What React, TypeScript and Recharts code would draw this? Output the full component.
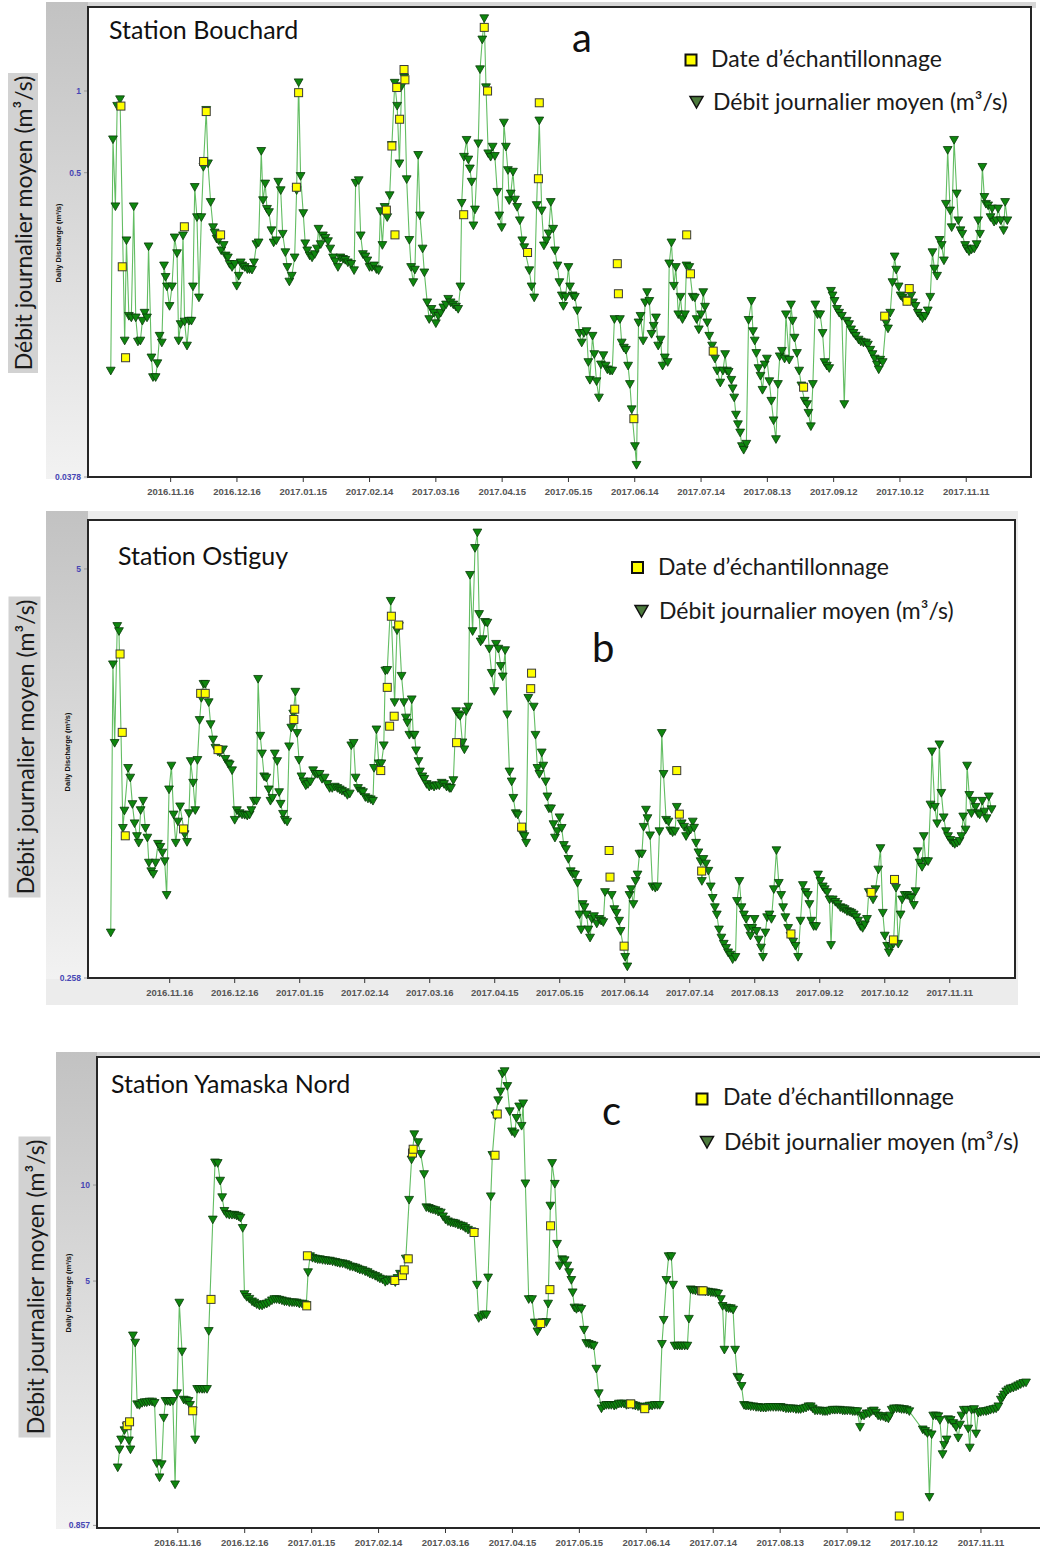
import React from 'react';
import { ScatterChart, Scatter, XAxis, YAxis } from 'recharts';

type Pt = [number, number];

// x = days since 2016-11-16, y = mean daily discharge (m3/s)
const tickDays = [0, 30, 60, 90, 120, 150, 180, 210, 240, 270, 300, 330, 360];
const tickDates = ['2016.11.16', '2016.12.16', '2017.01.15', '2017.02.14', '2017.03.16', '2017.04.15', '2017.05.15',
  '2017.06.14', '2017.07.14', '2017.08.13', '2017.09.12', '2017.10.12', '2017.11.11'];

const bouchardFlow: Pt[] = [
  [-27.1, 0.093], [-26.1, 0.662], [-25, 0.375], [-24.2, 0.88], [-22.9, 0.93], [-20.8, 0.12], [-20, 0.281], [-18.9, 0.148],
  [-17.8, 0.146], [-16.7, 0.375], [-15.8, 0.146], [-14.8, 0.119], [-13.7, 0.12], [-12.8, 0.142], [-11.8, 0.152], [-10.7, 0.146],
  [-10, 0.267], [-8.7, 0.104], [-8, 0.088], [-6.8, 0.088], [-6, 0.099], [-5, 0.125], [-4, 0.118], [-3, 0.227], [-2.3, 0.206],
  [-1.7, 0.19], [-0.5, 0.161], [0.6, 0.19], [1.8, 0.288], [2.9, 0.252], [3.6, 0.12], [4.5, 0.138], [5.6, 0.293], [6.3, 0.141],
  [7.4, 0.115], [8.3, 0.142], [9.4, 0.142], [10.1, 0.19], [10.9, 0.442], [11.9, 0.342], [12.8, 0.173], [13.9, 0.342],
  [14.8, 0.524], [16.1, 0.85], [16.9, 0.54], [18.1, 0.389], [19.2, 0.314], [19.9, 0.3], [20.8, 0.285], [21.7, 0.281],
  [22.9, 0.258], [24, 0.27], [24.9, 0.247], [25.9, 0.243], [26.7, 0.23], [27.8, 0.224], [29, 0.23], [29.9, 0.191],
  [30.8, 0.208], [31.7, 0.233], [32.4, 0.227], [33.5, 0.224], [34.7, 0.22], [35.7, 0.22], [36.8, 0.219], [37.7, 0.233],
  [38.8, 0.272], [39.8, 0.276], [41, 0.6], [41.8, 0.395], [42.8, 0.455], [43.6, 0.367], [44.5, 0.357], [45.6, 0.306],
  [46.6, 0.276], [47.8, 0.281], [48.7, 0.462], [49.8, 0.43], [50.7, 0.297], [51.9, 0.254], [52.8, 0.224], [53.7, 0.198],
  [54.8, 0.208], [56.1, 0.243], [57, 0.43], [57.9, 1.074], [58.8, 0.485], [60, 0.354], [60.9, 0.274], [61.8, 0.258],
  [62.9, 0.247], [64, 0.243], [65.2, 0.25], [66.2, 0.262], [66.9, 0.31], [67.9, 0.272], [68.9, 0.293], [70, 0.287],
  [71.2, 0.279], [72.2, 0.262], [73.5, 0.243], [74.5, 0.235], [75.7, 0.224], [76.8, 0.243], [78, 0.24], [79, 0.238],
  [80.2, 0.233], [81.7, 0.23], [83, 0.218], [83.7, 0.458], [85.1, 0.468], [86, 0.293], [87, 0.25], [88.1, 0.245], [89, 0.237],
  [90, 0.224], [91.1, 0.224], [92, 0.227], [93.1, 0.22], [94.1, 0.218], [94.9, 0.36], [95.8, 0.27], [96.8, 0.373], [98, 0.342],
  [99.1, 0.412], [100.1, 0.631], [101.4, 1.07], [102.5, 0.88], [103.5, 0.54], [104.5, 1.04], [105.7, 1.12], [106.8, 0.472],
  [108, 0.282], [108.8, 0.224], [109.8, 0.197], [110.5, 0.219], [112, 0.58], [112.8, 0.347], [114, 0.262], [114.8, 0.214],
  [116.1, 0.166], [117, 0.144], [118, 0.157], [119.1, 0.152], [120, 0.139], [121.1, 0.148], [122.2, 0.152], [123.4, 0.159],
  [124.6, 0.163], [125.6, 0.171], [126.7, 0.166], [127.9, 0.163], [129.1, 0.16], [130.1, 0.157], [131.1, 0.19], [131.7, 0.386],
  [132.7, 0.571], [133.9, 0.659], [134.7, 0.558], [135.4, 0.517], [136.2, 0.462], [137, 0.319], [137.7, 0.365], [139.2, 0.64],
  [140, 1.2], [141, 1.545], [141.9, 1.85], [142.7, 1.03], [143.7, 0.588], [144.8, 0.571], [145.7, 0.622], [146.7, 0.575],
  [147.8, 0.424], [148.7, 0.347], [149.8, 0.314], [150.8, 0.763], [151.7, 0.622], [152.6, 0.51], [153.2, 0.395], [153.9, 0.418],
  [154.9, 0.503], [155.8, 0.397], [156.8, 0.373], [158, 0.333], [159.1, 0.281], [160, 0.265], [162.3, 0.218], [163.3, 0.19],
  [164.5, 0.173], [165.6, 0.379], [166.8, 0.777], [167.9, 0.362], [168.9, 0.269], [170.1, 0.281], [171, 0.298], [172, 0.389],
  [173.1, 0.31], [173.9, 0.258], [175, 0.227], [175.9, 0.197], [177, 0.176], [177.7, 0.161], [178.7, 0.174], [180, 0.224],
  [180.7, 0.19], [181.9, 0.176], [182.9, 0.174], [184, 0.155], [185, 0.128], [186, 0.118], [187, 0.128], [188.2, 0.13],
  [189, 0.1], [189.7, 0.086], [190.9, 0.125], [191.7, 0.107], [192.7, 0.085], [193.8, 0.074], [194.7, 0.098], [195.8, 0.106],
  [196.8, 0.097], [197.6, 0.094], [198.8, 0.093], [199.8, 0.093], [200.8, 0.144], [203.3, 0.144], [204.1, 0.118],
  [205.1, 0.113], [206, 0.111], [207, 0.097], [207.8, 0.083], [208.6, 0.067], [210.1, 0.049], [210.8, 0.0418], [211.7, 0.14],
  [212.6, 0.148], [213.8, 0.12], [214.7, 0.166], [215.6, 0.181], [216.6, 0.168], [217.6, 0.127], [218.6, 0.136], [219.6, 0.146],
  [220.6, 0.115], [221.7, 0.121], [222.6, 0.097], [223.6, 0.104], [224.9, 0.1], [225.6, 0.231], [226.6, 0.276], [227.7, 0.191],
  [228.6, 0.224], [229.7, 0.15], [230.7, 0.174], [231.6, 0.144], [232.7, 0.15], [233.4, 0.227], [234.7, 0.224], [236.2, 0.174],
  [237.2, 0.173], [238, 0.144], [239, 0.132], [240, 0.15], [241, 0.181], [241.8, 0.16], [242.8, 0.14], [243.7, 0.125],
  [245, 0.115], [246.3, 0.103], [247.3, 0.093], [248.7, 0.084], [249.9, 0.093], [250.9, 0.107], [251.7, 0.093], [252.5, 0.092],
  [253.7, 0.086], [254.3, 0.08], [255, 0.074], [255.8, 0.064], [256.7, 0.059], [257.7, 0.055], [258.5, 0.049], [259.3, 0.0475],
  [260.5, 0.05], [261.5, 0.143], [262.8, 0.168], [263.5, 0.13], [264.3, 0.12], [265, 0.108], [266, 0.095], [266.9, 0.089],
  [267.8, 0.079], [268.8, 0.098], [269.8, 0.103], [270.9, 0.085], [271.8, 0.072], [272.8, 0.061], [273.9, 0.052], [274.8, 0.083],
  [275.6, 0.105], [276.6, 0.11], [277.8, 0.103], [278.4, 0.15], [279.9, 0.102], [280.7, 0.163], [281.4, 0.142], [282.3, 0.123],
  [283.4, 0.108], [284.4, 0.093], [285.4, 0.082], [286.9, 0.072], [288, 0.07], [288.6, 0.065], [289.7, 0.058], [290.6, 0.083],
  [291.7, 0.163], [292.7, 0.15], [293.9, 0.15], [295, 0.128], [295.9, 0.1], [296.9, 0.097], [298, 0.095], [298.8, 0.183],
  [299.5, 0.176], [300.4, 0.168], [301.5, 0.157], [302.5, 0.152], [303.7, 0.148], [304.8, 0.07], [305.9, 0.142], [307, 0.138],
  [307.9, 0.132], [309, 0.128], [310, 0.125], [311.3, 0.121], [312.3, 0.119], [313.5, 0.118], [314.6, 0.118], [315.5, 0.116],
  [316.6, 0.111], [317.6, 0.107], [318.6, 0.103], [319.6, 0.098], [320.4, 0.094], [321.1, 0.102], [322.2, 0.1], [323.7, 0.14],
  [324.6, 0.133], [325.6, 0.152], [326.6, 0.197], [327.6, 0.245], [328.3, 0.219], [329.4, 0.19], [330.3, 0.176], [331.2, 0.173],
  [332.1, 0.17], [333.2, 0.168], [335.1, 0.176], [335.9, 0.166], [337, 0.161], [338.1, 0.152], [339.2, 0.148], [340.2, 0.145],
  [341.4, 0.148], [342.6, 0.155], [343.7, 0.174], [344.7, 0.254], [345.6, 0.221], [346.8, 0.208], [347.9, 0.282], [348.9, 0.27],
  [349.9, 0.237], [350.8, 0.383], [351.6, 0.605], [352.7, 0.362], [353.4, 0.314], [354.5, 0.659], [355.7, 0.418], [356.4, 0.333],
  [357.4, 0.306], [358.2, 0.297], [359.5, 0.27], [360.2, 0.262], [361.3, 0.256], [362.4, 0.26], [363.6, 0.262], [364.7, 0.272],
  [365.4, 0.333], [366.2, 0.297], [367.3, 0.524], [368.2, 0.406], [368.9, 0.383], [369.9, 0.378], [371, 0.342], [371.7, 0.368],
  [372.6, 0.329], [373.6, 0.333], [374.4, 0.368], [375.6, 0.333], [376.9, 0.306], [377.6, 0.389], [378.6, 0.333],
];
const bouchardSamples: Pt[] = [
  [-22.5, 0.88], [-21.9, 0.225], [-20.4, 0.104], [6.2, 0.316], [14.9, 0.55], [16.1, 0.84], [22.6, 0.295], [56.9, 0.442],
  [57.9, 0.986], [97.6, 0.364], [100.1, 0.627], [101.5, 0.295], [102.3, 1.03], [103.6, 0.787], [105.6, 1.2], [106, 1.1],
  [132.6, 0.35], [141.9, 1.716], [143.4, 1.0], [161.5, 0.254], [166.4, 0.475], [166.8, 0.905], [202.1, 0.231], [202.6, 0.179],
  [209.6, 0.062], [233.5, 0.295], [235.2, 0.212], [245.5, 0.11], [286.4, 0.081], [323.1, 0.148], [333.2, 0.168], [334.2, 0.187],
];

const ostiguyFlow: Pt[] = [
  [-27.2, 0.358], [-26.2, 2.5], [-25.4, 1.415], [-24.2, 3.3], [-23.4, 3.18], [-21.6, 0.764], [-20.9, 0.866], [-19.2, 1.18],
  [-18.2, 1.1], [-17.2, 0.908], [-16.2, 0.79], [-15.1, 0.72], [-14.3, 0.686], [-13.4, 0.869], [-12.3, 0.93], [-11.2, 0.764],
  [-10.3, 0.712], [-9.6, 0.594], [-8.5, 0.558], [-7.6, 0.547], [-6.5, 0.594], [-5.4, 0.681], [-4.3, 0.666], [-3.4, 0.639],
  [-2.3, 0.6], [-1.4, 0.47], [-0.3, 1.01], [0.8, 1.2], [1.8, 0.842], [2.8, 0.686], [3.8, 0.8], [4.8, 0.893], [6.9, 0.73],
  [8, 0.69], [8.9, 0.85], [9.7, 1.24], [10.8, 1.06], [11.8, 0.869], [12.8, 1.25], [13.8, 1.67], [14.6, 1.96], [15.6, 2.17],
  [16.4, 2.17], [18, 1.9], [18.9, 1.62], [20, 1.45], [21.1, 1.365], [22.2, 1.33], [23.1, 1.32], [24.6, 1.35], [25.7, 1.26],
  [26.9, 1.22], [27.7, 1.21], [28.8, 1.16], [30, 0.81], [31, 0.869], [32.3, 0.85], [33.4, 0.842], [34.6, 0.84], [35.8, 0.835],
  [36.9, 0.842], [37.7, 0.869], [38.9, 0.93], [40, 0.93], [40.8, 2.25], [41.8, 1.49], [42.6, 1.31], [43.6, 1.11], [44.6, 1.1],
  [45.7, 1.01], [46.5, 0.93], [47.4, 0.95], [48.5, 1.31], [49.6, 1.24], [50.5, 0.99], [51.2, 0.91], [52.3, 0.846], [53.1, 0.81],
  [54.2, 0.8], [55.1, 1.38], [56.1, 1.58], [57, 1.75], [58, 2.05], [58.8, 1.52], [59.7, 1.25], [60.8, 1.11], [61.8, 1.07],
  [62.8, 1.04], [63.8, 1.05], [65, 1.07], [66.2, 1.16], [67.2, 1.13], [68.1, 1.13], [69.2, 1.13], [70.3, 1.09], [71.5, 1.1],
  [72.7, 1.05], [73.8, 1.02], [75, 1.02], [76.2, 1.03], [77.4, 1.02], [78.5, 1.01], [79.5, 1.0], [80.8, 0.99], [82, 0.97],
  [83.1, 0.98], [83.8, 1.39], [84.9, 1.415], [85.8, 1.1], [86.9, 1.02], [88.2, 1.0], [89.2, 0.99], [90.3, 0.955], [91.5, 0.945],
  [92.8, 0.94], [93.8, 0.93], [94.3, 1.18], [95.4, 1.56], [96.5, 1.22], [97.7, 1.22], [98.8, 1.39], [99.5, 2.39], [100.4, 2.4],
  [102, 3.96], [103.8, 1.9], [104.9, 3.2], [105.8, 3.3], [107, 2.3], [108.1, 1.9], [109, 1.7], [109.7, 1.64], [110.6, 1.5],
  [111.7, 1.94], [112.4, 1.5], [113, 1.5], [113.7, 1.34], [114.8, 1.24], [115.5, 1.15], [116.6, 1.11], [117.5, 1.09],
  [118.6, 1.05], [119.8, 1.03], [120.9, 1.04], [122, 1.03], [123.2, 1.04], [124.4, 1.04], [125.5, 1.06], [126.6, 1.05],
  [127.8, 1.03], [129.1, 1.02], [129.8, 1.02], [130.9, 1.08], [132.2, 1.78], [133.2, 1.74], [134, 1.72], [135.1, 1.42],
  [136, 1.35], [136.8, 1.78], [137.8, 1.84], [138.6, 4.78], [139.8, 3.18], [140.9, 5.81], [142, 6.5], [142.8, 3.6],
  [143.5, 2.95], [144.4, 3.0], [145.5, 3.4], [146.6, 3.38], [147.5, 2.8], [148.6, 2.35], [149.8, 2.06], [150.6, 2.9],
  [151.7, 2.8], [152.8, 2.47], [153.7, 2.29], [154.8, 2.77], [155.8, 1.74], [156.8, 1.15], [157.8, 1.07], [158.6, 0.95],
  [159.7, 0.85], [160.6, 0.842], [162.9, 0.73], [163.7, 0.72], [164.5, 0.686], [165.5, 1.96], [168, 1.84], [168.8, 1.5],
  [169.7, 1.18], [170.6, 1.13], [171.7, 1.32], [172.4, 1.2], [173.5, 1.07], [174.3, 0.96], [175, 0.88], [176, 0.88],
  [177.1, 0.785], [177.8, 0.712], [178.9, 0.746], [179.9, 0.825], [180.9, 0.764], [181.9, 0.675], [182.9, 0.655], [184, 0.61],
  [185.1, 0.558], [186, 0.547], [187.1, 0.545], [188.2, 0.513], [189.1, 0.408], [189.9, 0.366], [190.6, 0.44], [191.4, 0.43],
  [192.4, 0.408], [193.2, 0.366], [194, 0.345], [194.8, 0.395], [195.8, 0.403], [197.1, 0.382], [198.2, 0.395], [199.1, 0.39],
  [200.1, 0.386], [200.9, 0.48], [204, 0.47], [205.2, 0.424], [206.2, 0.413], [207.4, 0.39], [208.1, 0.362], [210.2, 0.3],
  [211.2, 0.28], [212.2, 0.47], [212.9, 0.49], [214, 0.44], [215, 0.52], [215.9, 0.545], [216.8, 0.634], [217.9, 0.634],
  [218.7, 0.77], [219.8, 0.872], [220.5, 0.82], [221.7, 0.724], [222.8, 0.5], [224.1, 0.495], [225.1, 0.5], [226, 0.746],
  [227.1, 1.52], [227.9, 1.13], [229.1, 0.81], [230.2, 0.8], [231, 0.75], [232.1, 0.74], [233.2, 0.746], [234, 0.89],
  [236.3, 0.79], [237.4, 0.77], [238.3, 0.72], [239.4, 0.746], [240.4, 0.755], [241.4, 0.8], [242, 0.765], [242.9, 0.686],
  [244, 0.64], [245, 0.6], [245.6, 0.52], [246.3, 0.61], [247.5, 0.59], [248.6, 0.56], [249.7, 0.5], [250.6, 0.46],
  [251.6, 0.43], [252.5, 0.408], [253.5, 0.366], [254.6, 0.345], [255.7, 0.33], [256.8, 0.32], [257.7, 0.31], [258.8, 0.305],
  [259.8, 0.295], [261.1, 0.3], [261.8, 0.45], [262.9, 0.52], [263.9, 0.43], [265, 0.408], [266, 0.395], [267, 0.37],
  [268, 0.35], [268.8, 0.37], [269.9, 0.395], [270.8, 0.362], [271.8, 0.34], [272.9, 0.321], [273.8, 0.3], [274.9, 0.358],
  [275.7, 0.4], [276.8, 0.408], [277.7, 0.395], [278.8, 0.49], [280, 0.65], [281.1, 0.513], [282.2, 0.47], [283.1, 0.43],
  [284.1, 0.4], [285.4, 0.37], [286.5, 0.35], [287.7, 0.335], [288.8, 0.325], [290, 0.3], [291.1, 0.39], [292.2, 0.505],
  [293.4, 0.48], [294.5, 0.47], [295.2, 0.44], [296.1, 0.39], [297.2, 0.375], [298.3, 0.375], [299.2, 0.545], [300.3, 0.52],
  [301.4, 0.5], [302.3, 0.49], [303.4, 0.48], [304.5, 0.455], [305.2, 0.327], [306, 0.455], [307.2, 0.447], [308.3, 0.44],
  [309.5, 0.43], [310.6, 0.427], [311.5, 0.424], [312.6, 0.418], [313.7, 0.416], [314.6, 0.413], [315.7, 0.408], [316.8, 0.4],
  [317.7, 0.39], [318.8, 0.375], [319.8, 0.37], [320.8, 0.38], [321.8, 0.395], [322.6, 0.48], [323.7, 0.47], [324.6, 0.455],
  [325.7, 0.49], [327, 0.565], [328, 0.66], [329.1, 0.413], [330, 0.35], [331.1, 0.325], [331.9, 0.31], [333, 0.325],
  [334, 0.33], [335.2, 0.495], [336.2, 0.33], [337.3, 0.408], [338, 0.455], [339.2, 0.47], [340.3, 0.47], [341.4, 0.465],
  [342.3, 0.46], [343.4, 0.437], [344.2, 0.483], [345.2, 0.645], [346.1, 0.594], [347.2, 0.576], [348, 0.72], [348.8, 0.6],
  [350, 0.6], [351.1, 0.905], [351.8, 1.33], [353.1, 0.89], [354.2, 0.79], [355.2, 1.4], [356.1, 0.985], [357.2, 0.825],
  [358.3, 0.746], [359.2, 0.72], [360.3, 0.7], [361.4, 0.686], [362.3, 0.68], [363.4, 0.686], [364.5, 0.695], [365.4, 0.72],
  [366.2, 0.83], [367.3, 0.755], [368, 1.2], [369, 0.97], [370, 0.85], [370.8, 0.93], [371.9, 0.89], [373, 0.85],
  [373.8, 0.842], [375, 0.93], [376, 0.86], [377, 0.82], [378, 0.96], [379.3, 0.875],
];
const ostiguySamples: Pt[] = [
  [-22.9, 2.7], [-21.9, 1.53], [-20.5, 0.723], [6.4, 0.76], [14.3, 2.03], [16.4, 2.03], [22.3, 1.35], [57.3, 1.68],
  [57.7, 1.81], [97.4, 1.16], [100.4, 2.12], [101.5, 1.6], [102.3, 3.55], [103.6, 1.72], [105.7, 3.33], [132.4, 1.42],
  [162.4, 0.77], [166.6, 2.1], [167, 2.35], [202.8, 0.65], [203.2, 0.536], [209.7, 0.325], [234, 1.16], [235.2, 0.846],
  [245.5, 0.56], [286.7, 0.355], [323.7, 0.48], [334, 0.34], [334.5, 0.527],
];

const yamaskaFlow: Pt[] = [
  [-26.9, 1.3], [-26.1, 1.48], [-25.4, 1.59], [-23.9, 1.7], [-22.9, 1.75], [-21.9, 1.58], [-21.2, 1.48], [-20.1, 3.37],
  [-19.1, 3.2], [-18.2, 2.05], [-17.2, 2.04], [-16, 2.07], [-14.9, 2.08], [-13.9, 2.08], [-12.7, 2.09], [-11.5, 2.09],
  [-10.4, 2.07], [-9.4, 1.34], [-8.2, 1.21], [-7.2, 1.33], [-6.3, 1.86], [-5.5, 2.1], [-4.5, 2.1], [-3.4, 2.09], [-2.2, 2.1],
  [-1.2, 1.15], [-0.3, 2.22], [0.7, 4.27], [1.9, 3.0], [2.7, 2.12], [3.7, 2.11], [4.8, 2.1], [5.5, 2.04], [6.7, 1.96],
  [7.8, 1.59], [8.7, 2.29], [9.7, 2.29], [10.9, 2.29], [11.9, 2.29], [13.1, 2.29], [13.9, 3.48], [15.7, 7.78], [16.7, 11.75],
  [17.9, 11.7], [19, 10.3], [19.9, 9.14], [20.9, 8.28], [21.9, 8.1], [23.1, 8.05], [24.3, 8.05], [25.4, 8.05], [26.4, 8.0],
  [27.3, 7.96], [28.1, 7.88], [29.1, 7.32], [29.9, 4.54], [30.9, 4.45], [32.1, 4.39], [33.3, 4.31], [34.3, 4.27], [35.4, 4.22],
  [36.6, 4.18], [37.8, 4.18], [38.8, 4.22], [39.9, 4.24], [41, 4.28], [42.2, 4.34], [43.3, 4.38], [44.3, 4.38], [45.5, 4.36],
  [46.7, 4.34], [47.8, 4.31], [48.8, 4.31], [50, 4.28], [51.2, 4.28], [52.2, 4.28], [53.3, 4.27], [54.5, 4.24], [55.7, 4.24],
  [56.7, 4.22], [57.6, 4.2], [58.4, 5.32], [59.3, 5.97], [60.4, 5.9], [61.6, 5.87], [62.7, 5.84], [63.7, 5.84], [64.9, 5.81],
  [66.1, 5.8], [67.2, 5.78], [68.2, 5.78], [69.4, 5.75], [70.6, 5.73], [71.6, 5.7], [72.7, 5.68], [73.9, 5.67], [75.1, 5.64],
  [76.1, 5.6], [77.2, 5.55], [78.4, 5.53], [79.6, 5.5], [80.6, 5.46], [81.6, 5.42], [82.8, 5.4], [84, 5.35], [85.1, 5.32],
  [86.1, 5.26], [87.3, 5.22], [88.5, 5.18], [89.6, 5.13], [90.6, 5.08], [91.8, 5.05], [93, 4.96], [94, 5.0], [95.2, 5.05],
  [96.3, 5.02], [97.5, 4.95], [98.5, 5.1], [99.6, 5.26], [100.7, 5.2], [102.2, 5.87], [103.7, 8.97], [104.8, 12.0],
  [106, 14.4], [107.7, 13.6], [108.9, 12.5], [110.4, 10.8], [111.4, 8.5], [112.5, 8.46], [113.4, 8.4], [114.4, 8.36],
  [115.5, 8.32], [116.7, 8.23], [117.9, 8.18], [118.9, 7.96], [120, 7.78], [121.1, 7.68], [122.3, 7.62], [123.4, 7.6],
  [124.4, 7.57], [125.6, 7.5], [126.8, 7.45], [127.9, 7.41], [128.9, 7.32], [130.1, 7.23], [131.6, 7.15], [132.8, 7.1],
  [134.1, 4.86], [134.9, 3.82], [136.1, 3.87], [137.3, 3.92], [138.3, 3.92], [139.1, 5.12], [140.3, 9.2], [141, 12.4],
  [142.4, 16.5], [143.6, 18.4], [144.7, 19.6], [145.5, 22.3], [146.5, 22.7], [147.7, 20.4], [148.8, 17.0], [149.8, 14.7],
  [151, 14.5], [151.8, 16.2], [153, 17.6], [154.1, 15.3], [154.8, 18.0], [155.8, 10.1], [157.3, 4.38], [158.8, 4.38],
  [160, 3.7], [161.2, 3.47], [162.4, 3.6], [163.7, 3.71], [165.2, 3.71], [166, 4.24], [167, 8.6], [167.8, 11.7], [169, 10.07],
  [170, 6.53], [171.2, 5.58], [172.3, 5.84], [173.4, 5.8], [174.6, 5.58], [175.4, 5.32], [176.4, 5.03], [177, 4.6],
  [177.8, 4.12], [178.7, 4.08], [179.7, 4.12], [180.9, 4.08], [182.1, 3.51], [183.1, 3.19], [184.2, 3.17], [185.4, 3.15],
  [186.4, 3.13], [187.6, 2.65], [188.7, 2.22], [189.9, 1.99], [191.1, 2.03], [192.1, 2.04], [193.2, 2.04], [194.3, 2.04],
  [195.6, 2.03], [196.6, 2.04], [197.7, 2.06], [198.8, 2.06], [200, 2.06], [201.1, 2.04], [202, 2.05], [203, 2.06], [204, 2.04],
  [205.1, 2.03], [206.3, 2.02], [207.5, 2.01], [208.4, 2.0], [209.3, 1.99], [210.5, 2.02], [211.5, 2.03], [212.6, 2.03],
  [213.8, 2.04], [215, 2.04], [216, 2.04], [217, 3.17], [217.8, 3.77], [219, 5.03], [220, 5.97], [221.2, 5.97], [222, 4.86],
  [222.7, 3.13], [223.9, 3.13], [225, 3.13], [226, 3.13], [227.2, 3.13], [228.4, 3.13], [229.1, 3.8], [229.9, 4.7],
  [230.9, 4.68], [232, 4.66], [233.2, 4.66], [234.3, 4.66], [235.4, 4.65], [236.5, 4.63], [237.7, 4.62], [238.9, 4.6],
  [239.9, 4.6], [241, 4.58], [242.2, 4.56], [243.4, 4.38], [244.2, 4.17], [245, 3.04], [245.9, 4.12], [246.9, 4.1],
  [247.9, 4.1], [248.9, 4.06], [249.8, 3.04], [250.8, 2.5], [251.7, 2.48], [252.7, 2.34], [253.8, 2.04], [254.7, 2.03],
  [255.7, 2.03], [256.8, 2.02], [258, 2.02], [259.2, 2.01], [260.2, 2.01], [261.3, 2.0], [262.5, 2.0], [263.6, 2.0],
  [264.7, 2.01], [265.7, 2.01], [266.9, 2.01], [268.1, 2.01], [269.2, 2.01], [270.2, 2.01], [271.4, 2.0], [272.6, 1.99],
  [273.7, 1.99], [274.7, 1.99], [275.9, 1.99], [277.1, 1.98], [278.2, 1.98], [279.2, 1.98], [280.4, 1.99], [281.6, 2.0],
  [282.7, 2.02], [283.7, 2.02], [284.6, 1.99], [285.6, 1.96], [286.7, 1.96], [287.9, 1.96], [289.1, 1.95], [290.1, 1.95],
  [291.1, 1.95], [292.3, 1.96], [293.5, 1.97], [294.5, 1.97], [295.6, 1.97], [296.8, 1.97], [298, 1.96], [299, 1.96],
  [300.1, 1.96], [301.3, 1.96], [302.5, 1.95], [303.5, 1.95], [304.6, 1.95], [305.8, 1.74], [306.5, 1.89], [307.6, 1.89],
  [308.8, 1.92], [310, 1.92], [311, 1.95], [312, 1.96], [312.9, 1.93], [313.9, 1.89], [315, 1.88], [316.2, 1.88], [317.3, 1.86],
  [318.5, 1.85], [319.2, 1.89], [320, 1.97], [321, 1.99], [322.2, 1.99], [323.4, 1.99], [324.4, 1.98], [325.5, 1.98],
  [326.7, 1.97], [327.9, 1.95], [333.9, 1.71], [335, 1.69], [336, 1.665], [336.9, 1.05], [337.9, 1.65], [338.6, 1.89],
  [339.8, 1.89], [340.9, 1.88], [341.6, 1.83], [342.8, 1.43], [343.5, 1.53], [344.6, 1.59], [345.3, 1.84], [346.4, 1.83],
  [347.6, 1.79], [348.8, 1.74], [349.8, 1.61], [350.6, 1.77], [351.3, 1.89], [352.3, 1.97], [353.5, 1.97], [354.3, 1.72],
  [355, 1.5], [355.8, 1.97], [356.9, 1.98], [357.8, 1.66], [358.8, 1.93], [359.9, 1.94], [361.1, 1.95], [362.3, 1.95],
  [363.3, 1.96], [364.3, 1.97], [365.6, 1.98], [366.8, 1.99], [367.8, 2.02], [368.9, 2.12], [369.8, 2.16], [370.4, 2.2],
  [371.3, 2.25], [372.3, 2.28], [373.3, 2.3], [374.5, 2.31], [375.7, 2.33], [376.7, 2.35], [377.8, 2.37], [379, 2.39],
  [380.2, 2.4],
];
const yamaskaSamples: Pt[] = [
  [-22.7, 1.76], [-21.6, 1.81], [6.7, 1.96], [14.9, 4.38], [57.8, 4.18], [58.1, 6.0], [97.3, 5.02], [100.7, 5.2],
  [101.5, 5.42], [103.3, 5.87], [105.2, 12.6], [105.5, 12.95], [132.8, 7.1], [142.2, 12.4], [143.2, 16.7], [162.7, 3.68],
  [166.8, 4.7], [167.1, 7.45], [203, 2.06], [209.3, 1.99], [234.7, 4.66], [235.4, 4.66], [323.4, 0.917],
];

const LINE_GREEN = '#63bd63';
const FONT = 'Lato, "Open Sans", sans-serif';

const toRows = (pts: Pt[]) => pts.map(([d, v]) => ({ d, v }));

function DownTriangle(props: any) {
  const { cx, cy } = props;
  if (cx == null || cy == null) return null;
  return (
    <path d={`M${cx - 4.4},${cy - 3.7}L${cx + 4.4},${cy - 3.7}L${cx},${cy + 4}Z`}
      fill="#0e860e" stroke="#0a3a0a" strokeWidth={0.8} />
  );
}

function SampleSquare(props: any) {
  const { cx, cy } = props;
  if (cx == null || cy == null) return null;
  return <rect x={cx - 4} y={cy - 4} width={8} height={8} fill="#ffff00" stroke="#3a3a3a" strokeWidth={1} />;
}

interface PanelProps {
  flow: Pt[];
  samples: Pt[];
  top: number;
  width: number;
  height: number;
  margin: { top: number; right: number; bottom: number; left: number };
  xDomain: [number, number];
  yDomain: [number, number];
  yTicks: number[];
}

function Panel({ flow, samples, top, width, height, margin, xDomain, yDomain, yTicks }: PanelProps) {
  return (
    <div style={{ position: 'absolute', left: 0, top, width, height }}>
      <ScatterChart width={width} height={height} margin={margin}>
        <XAxis
          type="number"
          dataKey="d"
          domain={xDomain}
          allowDataOverflow
          ticks={tickDays}
          interval={0}
          tickFormatter={(d: number) => tickDates[tickDays.indexOf(d)] ?? ''}
          axisLine={false}
          tickLine={{ stroke: '#333' }}
          tickSize={5}
          tickMargin={6}
          height={24}
          tick={{ fontSize: 9.5, fontWeight: 700, fill: '#555', fontFamily: '"Liberation Sans", Arial, sans-serif' }}
        />
        <YAxis
          type="number"
          dataKey="v"
          scale="log"
          domain={yDomain}
          allowDataOverflow
          ticks={yTicks}
          interval={0}
          tickFormatter={(v: number) => String(v)}
          axisLine={false}
          tickLine={{ stroke: '#999' }}
          tickSize={4}
          tickMargin={3}
          width={40}
          tick={{ fontSize: 8.5, fontWeight: 700, fill: '#4646b4', fontFamily: '"Liberation Sans", Arial, sans-serif' }}
        />
        <Scatter
          data={toRows(flow)}
          line={{ stroke: LINE_GREEN, strokeWidth: 1.1 }}
          lineType="joint"
          shape={DownTriangle}
          isAnimationActive={false}
        />
        <Scatter data={toRows(samples)} shape={SampleSquare} isAnimationActive={false} />
      </ScatterChart>
    </div>
  );
}

const abs = (s: React.CSSProperties): React.CSSProperties => ({ position: 'absolute', ...s });
const stripGradient = 'linear-gradient(to bottom, #c2c2c2 0%, #d8d8d8 45%, #f2f2f2 100%)';

function Frame({ left, top, width, height }: { left: number; top: number; width: number; height: number }) {
  return (
    <div style={abs({ left: left - 1, top: top - 1, width: width + 2, height: height + 2, border: '2px solid #262626',
      boxSizing: 'border-box', pointerEvents: 'none' })} />
  );
}

function YLabel({ cx, cy, len, thick }: { cx: number; cy: number; len: number; thick: number }) {
  return (
    <div style={abs({ left: cx - len / 2, top: cy - thick / 2, width: len, height: thick, background: '#d2d2d2',
      transform: 'rotate(-90deg)', display: 'flex', alignItems: 'center', justifyContent: 'center',
      fontFamily: FONT, fontSize: 23, color: '#1a1a1a', whiteSpace: 'nowrap' })}>
      Débit journalier moyen (m³/s)
    </div>
  );
}

function SmallLabel({ cx, cy }: { cx: number; cy: number }) {
  return (
    <div style={abs({ left: cx - 60, top: cy - 6, width: 120, height: 12, transform: 'rotate(-90deg)',
      textAlign: 'center', fontFamily: '"Liberation Sans", Arial, sans-serif', fontSize: 7.5, fontWeight: 700,
      lineHeight: '12px', color: '#111', whiteSpace: 'nowrap' })}>
      Daily Discharge (m³/s)
    </div>
  );
}

function Legend({ sqX, sqY, triX, triY, t1X, t1Y, t2X, t2Y }: Record<string, number>) {
  return (
    <g>
      <rect x={sqX - 5.5} y={sqY - 5.5} width={11} height={11} fill="#ffff00" stroke="#111" strokeWidth={2} />
      <text x={t1X} y={t1Y} fontSize={23} fontFamily={FONT} fill="#1a1a1a">Date d’échantillonnage</text>
      <path d={`M${triX - 6.5},${triY - 5.5}L${triX + 6.5},${triY - 5.5}L${triX},${triY + 6}Z`}
        fill="#4b7a3c" stroke="#111" strokeWidth={1.5} />
      <text x={t2X} y={t2Y} fontSize={23} fontFamily={FONT} fill="#1a1a1a">Débit journalier moyen (m³/s)</text>
    </g>
  );
}

export default function App() {
  return (
    <div style={abs({ left: 0, top: 0, width: 1040, height: 1552, background: '#fff', overflow: 'hidden' })}>
      {/* screenshot backdrops */}
      <div style={abs({ left: 46, top: 2, width: 990, height: 6, background: '#d6d6d6' })} />
      <div style={abs({ left: 46, top: 2, width: 42, height: 477, background: stripGradient })} />
      <div style={abs({ left: 46, top: 511, width: 972, height: 494, background: '#ececec' })} />
      <div style={abs({ left: 46, top: 511, width: 42, height: 468, background: stripGradient })} />
      <div style={abs({ left: 56, top: 1052, width: 984, height: 6, background: '#d6d6d6' })} />
      <div style={abs({ left: 56, top: 1052, width: 41, height: 477, background: stripGradient })} />
      <div style={abs({ left: 88, top: 7, width: 943, height: 470, background: '#fff' })} />
      <div style={abs({ left: 88, top: 520, width: 927, height: 458, background: '#fff' })} />
      <div style={abs({ left: 97, top: 1057, width: 950, height: 471, background: '#fff' })} />

      <Panel flow={bouchardFlow} samples={bouchardSamples} top={0} width={1040} height={510}
        margin={{ top: 7, right: 9, bottom: 9, left: 48 }} xDomain={[-37.4, 389.3]} yDomain={[0.0378, 2.04]}
        yTicks={[0.0378, 0.5, 1]} />
      <Panel flow={ostiguyFlow} samples={ostiguySamples} top={512} width={1040} height={493}
        margin={{ top: 8, right: 25, bottom: 3, left: 48 }} xDomain={[-37.7, 390.1]} yDomain={[0.258, 7.13]}
        yTicks={[0.258, 5]} />
      <Panel flow={yamaskaFlow} samples={yamaskaSamples} top={1050} width={1050} height={502}
        margin={{ top: 7, right: 5, bottom: 0, left: 57 }} xDomain={[-36.2, 388.7]} yDomain={[0.841, 25.2]}
        yTicks={[0.857, 5, 10]} />

      <Frame left={88} top={7} width={943} height={470} />
      <Frame left={88} top={520} width={927} height={458} />
      <Frame left={97} top={1057} width={960} height={471} />

      <YLabel cx={22.5} cy={223} len={300} thick={30} />
      <YLabel cx={24} cy={747} len={301} thick={32} />
      <YLabel cx={34.5} cy={1287} len={301} thick={32} />
      <SmallLabel cx={58.5} cy={243} />
      <SmallLabel cx={68} cy={752} />
      <SmallLabel cx={68.5} cy={1293} />

      <svg width={1040} height={1552} style={abs({ left: 0, top: 0, pointerEvents: 'none' })}>
        <text x={109} y={39} fontSize={25} fontFamily={FONT} fill="#111">Station Bouchard</text>
        <text x={118} y={565} fontSize={25} fontFamily={FONT} fill="#111">Station Ostiguy</text>
        <text x={111} y={1093} fontSize={25} fontFamily={FONT} fill="#111">Station Yamaska Nord</text>
        <text x={572} y={52} fontSize={40} fontFamily={FONT} fill="#111">a</text>
        <text x={592} y={662} fontSize={40} fontFamily={FONT} fill="#111">b</text>
        <text x={602} y={1125} fontSize={40} fontFamily={FONT} fill="#111">c</text>
        <Legend sqX={691} sqY={60} triX={696.5} triY={102} t1X={711} t1Y={67} t2X={713} t2Y={110} />
        <Legend sqX={637.5} sqY={567.5} triX={641.5} triY={611} t1X={658} t1Y={575} t2X={659} t2Y={619} />
        <Legend sqX={702} sqY={1099} triX={707} triY={1142} t1X={723} t1Y={1105} t2X={724} t2Y={1150} />
      </svg>
    </div>
  );
}
